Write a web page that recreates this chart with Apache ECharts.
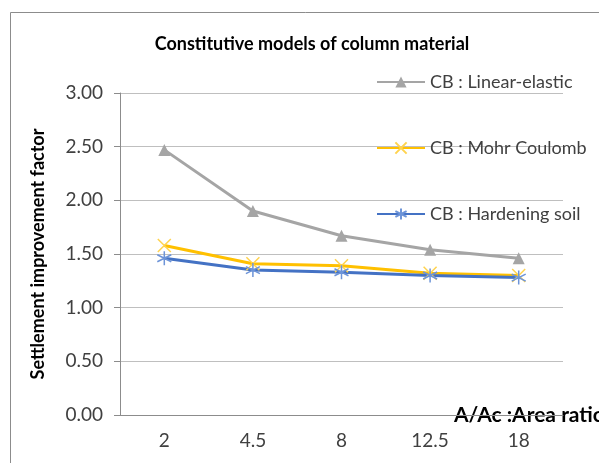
<!DOCTYPE html>
<html>
<head>
<meta charset="utf-8">
<script src="https://cdn.jsdelivr.net/npm/echarts@6/dist/echarts.min.js"></script>
<style>html,body{margin:0;padding:0;background:#fff;}#c{width:599px;height:463px;}</style>
</head>
<body>
<div id="c"></div>
<script>
const categories = ['2', '4.5', '8', '12.5', '18'];
const linearElastic = [2.47, 1.90, 1.67, 1.54, 1.46];
const mohrCoulomb = [1.58, 1.41, 1.39, 1.32, 1.30];
const hardeningSoil = [1.46, 1.35, 1.33, 1.30, 1.28];
const yTicks = { min: 0, max: 3, interval: 0.5 };

const FONT = 'Lato, "Open Sans", sans-serif';
const xSym = 'path://M-5,-5L5,5M-5,5L5,-5';
const starSym = 'path://M0,-6L0,6M-5.2,-3L5.2,3M-5.2,3L5.2,-3';

const chart = echarts.init(document.getElementById('c'));
chart.setOption({
  animation: false,
  backgroundColor: '#fff',
  textStyle: { fontFamily: FONT },
  graphic: [{
    type: 'rect', left: 8, top: 10,
    shape: { width: 700, height: 600 },
    style: { fill: 'none', stroke: '#8c8c8c', lineWidth: 1 },
    silent: true
  }],
  title: {
    text: 'Constitutive models of column material',
    left: 307, textAlign: 'center', top: 30,
    textStyle: { fontFamily: FONT, fontSize: 18, fontWeight: 'bold', color: '#000' }
  },
  legend: {
    orient: 'vertical', left: 376, top: 72, padding: 0,
    itemWidth: 48, itemHeight: 14, itemGap: 46,
    textStyle: { fontFamily: FONT, fontSize: 18, lineHeight: 20, color: '#404040' },
    data: ['CB : Linear-elastic', 'CB : Mohr Coulomb', 'CB : Hardening soil']
  },
  grid: { left: 120, right: 36, top: 93, bottom: 48, containLabel: false, outerBoundsMode: 'none' },
  xAxis: {
    type: 'category', data: categories, boundaryGap: true,
    name: 'A/Ac :Area ratio', nameLocation: 'end', nameGap: -109, nameMoveOverlap: false,
    nameTextStyle: { fontFamily: FONT, fontSize: 21, fontWeight: 'bold', color: '#000', align: 'left', verticalAlign: 'middle', padding: [3, 0, 0, 0] },
    axisLine: { lineStyle: { color: '#8c8c8c' } },
    axisTick: { alignWithLabel: false, length: 6, lineStyle: { color: '#8c8c8c' } },
    axisLabel: { fontFamily: FONT, fontSize: 19, color: '#404040', margin: 16 }
  },
  yAxis: {
    type: 'value', min: yTicks.min, max: yTicks.max, interval: yTicks.interval,
    name: 'Settlement improvement factor', nameLocation: 'middle', nameGap: 73,
    nameTextStyle: { fontFamily: FONT, fontSize: 18, fontWeight: 'bold', color: '#000' },
    axisLine: { show: true, lineStyle: { color: '#8c8c8c' } },
    axisTick: { show: true, length: 6, inside: false, lineStyle: { color: '#8c8c8c' } },
    splitLine: { lineStyle: { color: '#bfbfbf' } },
    axisLabel: { fontFamily: FONT, fontSize: 19, color: '#404040', margin: 17, formatter: v => v.toFixed(2) }
  },
  series: [
    {
      name: 'CB : Linear-elastic', type: 'line', data: linearElastic,
      symbol: 'triangle', symbolSize: 12, showAllSymbol: true,
      lineStyle: { color: '#A5A5A5', width: 3 },
      itemStyle: { color: '#A5A5A5' }
    },
    {
      name: 'CB : Mohr Coulomb', type: 'line', data: mohrCoulomb,
      symbol: xSym, symbolSize: 13, showAllSymbol: true,
      lineStyle: { color: '#FFC000', width: 3 },
      itemStyle: { color: '#FFD34F', borderColor: '#FFD34F', borderWidth: 1.5 }
    },
    {
      name: 'CB : Hardening soil', type: 'line', data: hardeningSoil,
      symbol: starSym, symbolSize: 14, showAllSymbol: true,
      lineStyle: { color: '#4472C4', width: 3 },
      itemStyle: { color: '#6d94d8', borderColor: '#6d94d8', borderWidth: 1.5 }
    }
  ]
});
</script>
</body>
</html>
